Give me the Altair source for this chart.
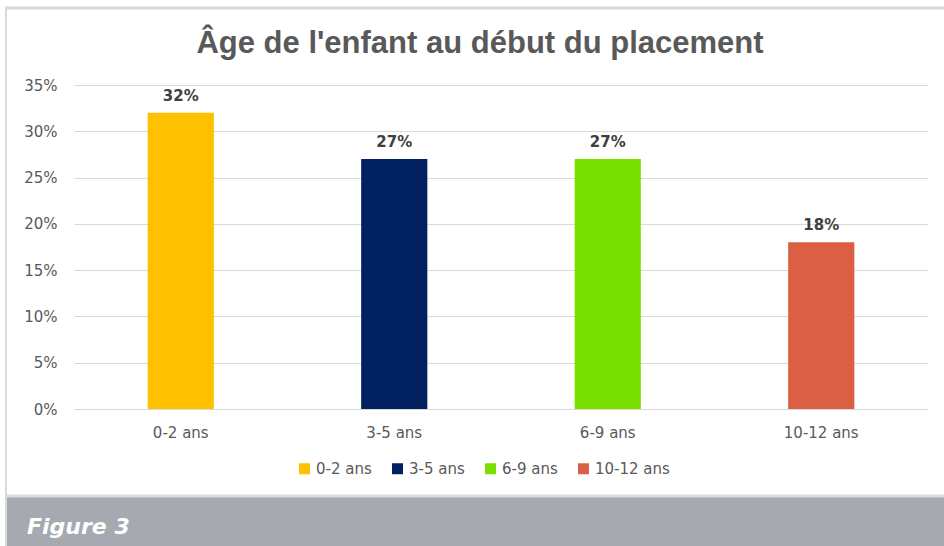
import altair as alt
import pandas as pd

categories = ["0-2 ans", "3-5 ans", "6-9 ans", "10-12 ans"]
values = [0.32, 0.27, 0.27, 0.18]
colors = ["#FFC000", "#002060", "#7AE000", "#DA5F45"]
title_text = "Âge de l'enfant au début du placement"
figure_text = "Figure 3"

df = pd.DataFrame({"cat": categories, "val": values})

x_enc = alt.X("cat:N", sort=categories, title=None,
              scale=alt.Scale(paddingInner=0.69, paddingOuter=0.345),
              axis=alt.Axis(labelAngle=0, labelFont="DejaVu Sans", labelFontSize=15,
                            labelColor="#595959", labelPadding=16, ticks=False,
                            domain=False, grid=False))
y_enc = alt.Y("val:Q", title=None,
              scale=alt.Scale(domain=[0, 0.35], nice=False),
              axis=alt.Axis(values=[0, 0.05, 0.1, 0.15, 0.2, 0.25, 0.3, 0.35], format=".0%",
                            labelFont="DejaVu Sans", labelFontSize=15, labelColor="#595959",
                            labelPadding=17, ticks=False, domain=False,
                            grid=True, gridColor="#d9d9d9", gridWidth=1))

bars = alt.Chart(df).mark_bar().encode(
    x=x_enc,
    y=y_enc,
    color=alt.Color("cat:N", sort=categories,
                    scale=alt.Scale(domain=categories, range=colors),
                    legend=alt.Legend(orient="none", legendX=223, legendY=376,
                                      direction="horizontal", title=None,
                                      symbolType="square", symbolSize=121,
                                      symbolStrokeWidth=0, labelFont="DejaVu Sans",
                                      labelFontSize=15, labelColor="#595959",
                                      labelOffset=4, columnPadding=18, padding=0)),
)

labels = alt.Chart(df).mark_text(
    baseline="bottom", dy=-9, font="DejaVu Sans", fontWeight="bold",
    fontSize=15, color="#404040"
).encode(x=alt.X("cat:N", sort=categories), y="val:Q",
         text=alt.Text("val:Q", format=".0%"))

tdf = pd.DataFrame({"t": [title_text]})
title = alt.Chart(tdf).mark_text(
    font="Liberation Sans", fontWeight="bold", fontSize=31, color="#595959",
    align="center", baseline="alphabetic"
).encode(x=alt.value(406), y=alt.value(-32), text="t:N")

fdf = pd.DataFrame({"t": [figure_text]})
band = alt.Chart(fdf).mark_rect(color="#a7a9b0").encode(
    x=alt.value(-67), x2=alt.value(870), y=alt.value(412), y2=alt.value(461))
band_line = alt.Chart(fdf).mark_rule(color="#dcdcdc", strokeWidth=3).encode(
    x=alt.value(-67), x2=alt.value(870), y=alt.value(411))
top_line = alt.Chart(fdf).mark_rule(color="#d9d9d9", strokeWidth=3).encode(
    x=alt.value(-69), x2=alt.value(870), y=alt.value(-77))
left_line = alt.Chart(fdf).mark_rule(color="#d9d9d9", strokeWidth=2).encode(
    x=alt.value(-68), y=alt.value(-78), y2=alt.value(461))
fig_text = alt.Chart(fdf).mark_text(
    font="DejaVu Sans", fontWeight="bold", fontStyle="italic", fontSize=22,
    color="#ffffff", align="left", baseline="alphabetic"
).encode(x=alt.value(-47), y=alt.value(449), text="t:N")

chart = alt.layer(band, band_line, top_line, left_line, bars, labels, title, fig_text).properties(
    width=854, height=324,
    autosize=alt.AutoSizeParams(type="none"),
    padding={"left": 74, "top": 85, "right": 16, "bottom": 137},
    background="#ffffff",
).configure_view(stroke=None)

chart.save("out.html", embed_options={"renderer": "svg", "actions": False})
